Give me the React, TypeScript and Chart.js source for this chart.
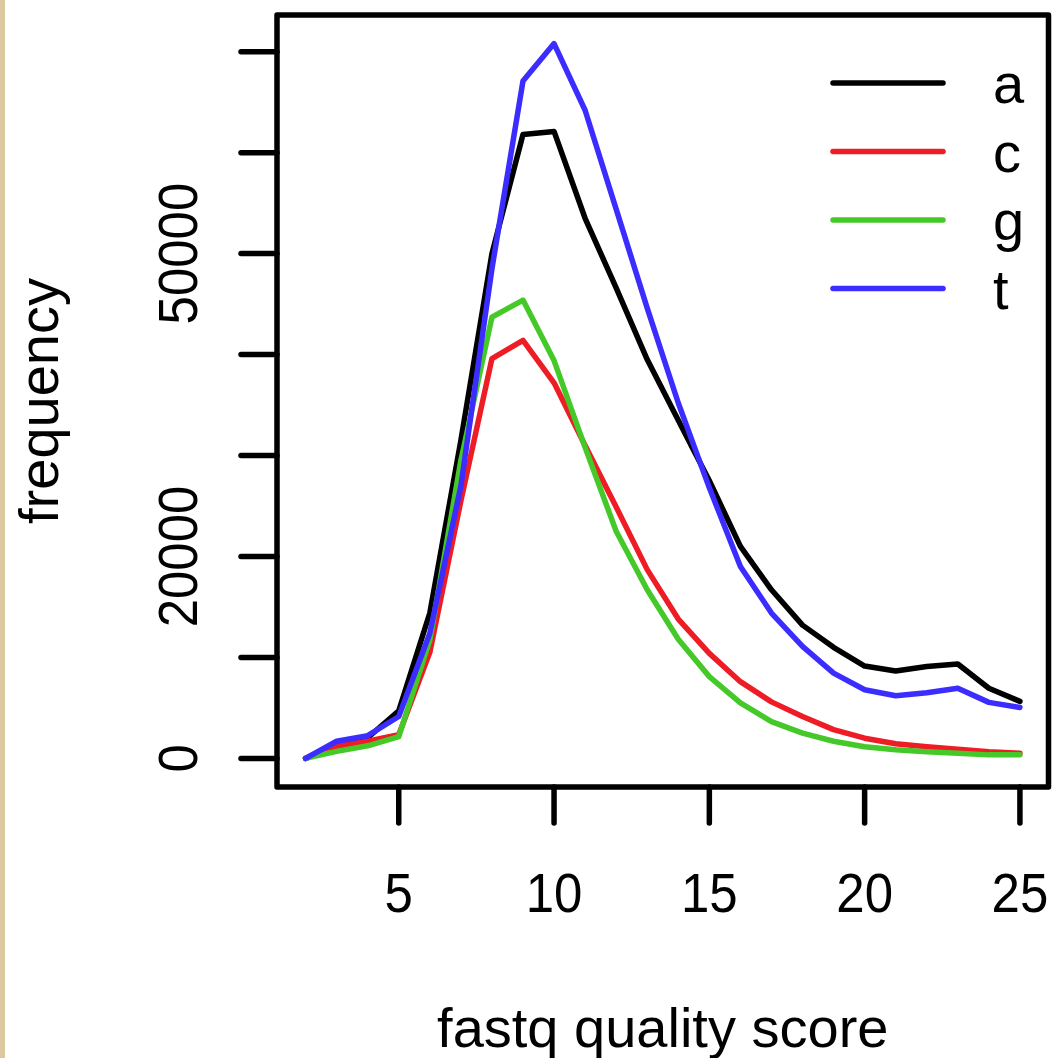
import React, { useEffect, useRef } from "react";
import { Chart, registerables } from "chart.js";

Chart.register(...registerables);

// ---- data ----
const scores = [2, 3, 4, 5, 6, 7, 8, 9, 10, 11, 12, 13, 14, 15, 16, 17, 18, 19, 20, 21, 22, 23, 24, 25];
const seriesA = [0, 1500, 2050, 4700, 14400, 31500, 50000, 61800, 62100, 53500, 46600, 39500, 33500, 27500, 21000, 16700, 13200, 11000, 9150, 8650, 9100, 9350, 6950, 5650];
const seriesC = [0, 1200, 1700, 2350, 10500, 25500, 39600, 41400, 37200, 31000, 24900, 18700, 13800, 10400, 7600, 5600, 4150, 2850, 2000, 1450, 1150, 900, 650, 500];
const seriesG = [0, 700, 1250, 2150, 11700, 29500, 43700, 45400, 39400, 30800, 22500, 16700, 11800, 8100, 5500, 3650, 2500, 1700, 1150, 850, 650, 500, 350, 350];
const seriesT = [0, 1700, 2250, 4150, 12400, 27000, 48500, 67100, 70800, 64200, 54400, 44600, 35200, 26800, 19000, 14400, 11100, 8450, 6800, 6200, 6500, 6950, 5550, 5050];
const seriesNames = ["a", "c", "g", "t"];
const seriesColors = ["#000000", "#ee1c25", "#44c928", "#3b2cff"];
const xTicks = [5, 10, 15, 20, 25];
const yTicks = [0, 10000, 20000, 30000, 40000, 50000, 60000, 70000];
const yTickLabels = ["0", "", "20000", "", "", "50000", "", ""];
const xTitle = "fastq quality score";
const yTitle = "frequency";

const FONT = '56px "Liberation Sans", Arial, Helvetica, sans-serif';
const DIGIT_SQUEEZE = 0.91;

const decorPlugin = {
  id: "decor",
  beforeDraw(chart: any) {
    const ctx = chart.ctx;
    ctx.save();
    ctx.fillStyle = "#ffffff";
    ctx.fillRect(0, 0, chart.width, chart.height);
    ctx.fillStyle = "#dcc89f";
    ctx.fillRect(0, 0, 5, chart.height);
    ctx.restore();
  },
  afterDraw(chart: any) {
    const ctx = chart.ctx;
    const ca = chart.chartArea;
    const xs = chart.scales.x;
    const ys = chart.scales.y;
    ctx.save();
    ctx.strokeStyle = "#000000";
    ctx.fillStyle = "#000000";
    ctx.lineWidth = 5.5;
    ctx.lineCap = "round";
    ctx.lineJoin = "round";
    // box
    ctx.strokeRect(ca.left, ca.top, ca.right - ca.left, ca.bottom - ca.top);
    ctx.font = FONT;
    // y ticks
    yTicks.forEach((v, i) => {
      const py = ys.getPixelForValue(v);
      ctx.beginPath();
      ctx.moveTo(ca.left - 36, py);
      ctx.lineTo(ca.left, py);
      ctx.stroke();
      const lab = yTickLabels[i];
      if (lab) {
        ctx.save();
        ctx.translate(ca.left - 80, py);
        ctx.rotate(-Math.PI / 2);
        ctx.scale(DIGIT_SQUEEZE, 1);
        ctx.textAlign = "center";
        ctx.textBaseline = "alphabetic";
        ctx.fillText(lab, 0, 0);
        ctx.restore();
      }
    });
    // x ticks
    xTicks.forEach((v) => {
      const px = xs.getPixelForValue(v);
      ctx.beginPath();
      ctx.moveTo(px, ca.bottom);
      ctx.lineTo(px, ca.bottom + 36);
      ctx.stroke();
      ctx.save();
      ctx.translate(px, ca.bottom + 125);
      ctx.scale(DIGIT_SQUEEZE, 1);
      ctx.textAlign = "center";
      ctx.textBaseline = "alphabetic";
      ctx.fillText(String(v), 0, 0);
      ctx.restore();
    });
    // axis titles
    ctx.textAlign = "center";
    ctx.textBaseline = "alphabetic";
    ctx.fillText(xTitle, (ca.left + ca.right) / 2, ca.bottom + 260);
    ctx.save();
    ctx.translate(ca.left - 219, (ca.top + ca.bottom) / 2);
    ctx.rotate(-Math.PI / 2);
    ctx.fillText(yTitle, 0, 0);
    ctx.restore();
    // legend
    const datasets = chart.data.datasets;
    datasets.forEach((ds: any, i: number) => {
      const ly = ca.top + 68 + i * 68.5;
      ctx.strokeStyle = ds.borderColor;
      ctx.lineWidth = 5.5;
      ctx.beginPath();
      ctx.moveTo(833, ly);
      ctx.lineTo(943, ly);
      ctx.stroke();
      ctx.fillStyle = "#000000";
      ctx.textAlign = "left";
      ctx.fillText(ds.label, 993, ly + 20);
    });
    ctx.restore();
  },
};

export default function App() {
  const ref = useRef<HTMLCanvasElement | null>(null);
  useEffect(() => {
    document.body.style.margin = "0";
    const canvas = ref.current;
    if (!canvas) return;
    const all = [seriesA, seriesC, seriesG, seriesT];
    const chart = new Chart(canvas, {
      type: "line",
      data: {
        datasets: all.map((vals, i) => ({
          label: seriesNames[i],
          data: scores.map((s, j) => ({ x: s, y: vals[j] })),
          borderColor: seriesColors[i],
          backgroundColor: seriesColors[i],
          borderWidth: 5.5,
          pointRadius: 0,
          tension: 0,
          fill: false,
          borderJoinStyle: "round",
          borderCapStyle: "round",
          order: 4 - i,
        })),
      },
      options: {
        animation: false,
        responsive: false,
        devicePixelRatio: 1,
        layout: { padding: { left: 277, right: 5.5, top: 15, bottom: 271 } },
        plugins: { legend: { display: false }, tooltip: { enabled: false }, title: { display: false } },
        events: [],
        scales: {
          x: { type: "linear", min: 1.08, max: 25.92, display: false },
          y: { type: "linear", min: -2832, max: 73632, display: false },
        },
      },
      plugins: [decorPlugin],
    } as any);
    return () => chart.destroy();
  }, []);
  return (
    <canvas ref={ref} width={1054} height={1058} style={{ display: "block", width: 1054, height: 1058 }} />
  );
}
